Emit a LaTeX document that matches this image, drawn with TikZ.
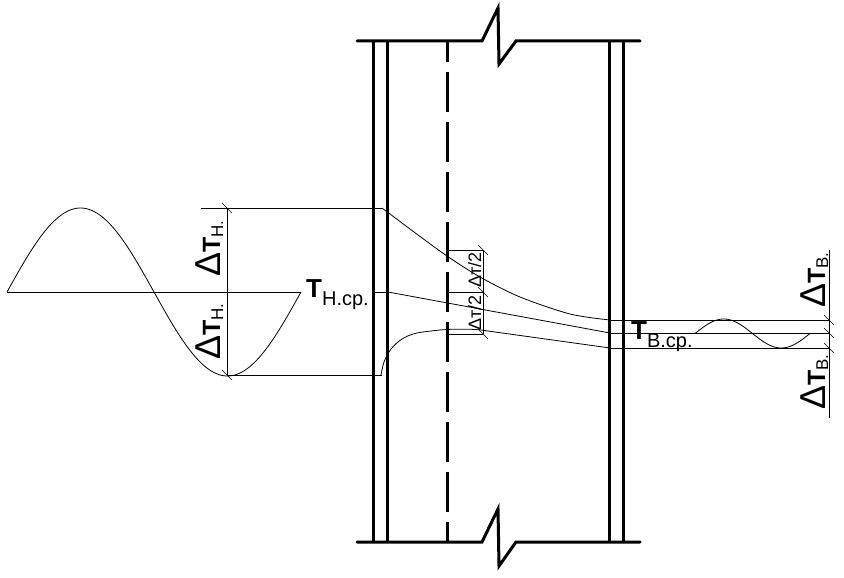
\documentclass[tikz,border=0pt]{standalone}
\usepackage{fontspec}
\setmainfont{Liberation Sans}
\newcommand{\bigdelta}[1]{{\fontsize{36}{36}\selectfont Δ}{\fontsize{25}{25}\selectfont\bfseries T}\raisebox{-3pt}{\fontsize{17}{17}\selectfont #1}}
\newcommand{\smalldelta}{{\fontsize{18}{18}\selectfont Δт/2}}
\newcommand{\meantemp}[1]{{\fontsize{26}{26}\selectfont\bfseries T}\raisebox{-8pt}{\fontsize{20}{20}\selectfont #1}}
\tikzset{
    thinline/.style={line width=0.8pt},
    wall/.style={line width=3pt},
    axisline/.style={line width=3pt, dash pattern=on 40pt off 10pt, dash phase=19pt},
    tick/.style={line width=0.6pt},
    vertlabel/.style={rotate=90, anchor=base west, inner sep=0pt},
    flatlabel/.style={anchor=base west, inner sep=0pt}
}
\begin{document}
\begin{tikzpicture}[x=1pt, y=-1pt]
    \useasboundingbox (0, 0) rectangle (844, 578);
    % walls and break lines
    \draw[wall, line cap=round] (357, 41) -- (482, 41) -- (498, 8) -- (499, 64) -- (516, 41) -- (640, 41);
    \draw[wall, line cap=round] (357, 542) -- (482, 542) -- (498, 509) -- (499, 566) -- (516, 542) -- (640, 542);
    \foreach \wallx in {373.5, 387, 609.5, 623} {
        \draw[wall] (\wallx, 41) -- (\wallx, 542);
    }
    \draw[axisline] (447.5, 41) -- (447.5, 542);
    % outer and inner waves
    \draw[thinline, smooth, samples=120, domain=7:301] plot (\x, {292 - 84*sin((\x - 7)/294*360)});
    \draw[thinline, smooth, samples=80, domain=695:810] plot (\x, {333.5 - 14.5*sin((\x - 695)/115*360)});
    % dimension lines, left
    \draw[thinline] (201, 208) -- (382, 208);
    \draw[thinline] (7, 292) -- (301, 292);
    \draw[thinline] (373, 292) -- (388, 292);
    \draw[thinline] (227, 375) -- (382, 375);
    \draw[thinline] (227, 208) -- (227, 375);
    % temperature curves through the wall
    \draw[thinline, smooth] plot coordinates {(382, 208) (414, 232) (447, 256) (480, 277) (520, 297) (570, 314) (610, 320)};
    \draw[thinline] (388, 292) -- (610, 333);
    \draw[thinline, smooth] plot coordinates {(381, 375) (384, 362) (391, 349) (402, 339) (417, 333) (447, 329.5) (475, 329.5) (500, 332.7) (610, 348)};
    % half amplitude dimension
    \draw[thinline] (449, 250) -- (483, 250);
    \draw[thinline] (449, 292) -- (483, 292);
    \draw[thinline] (449, 334) -- (483, 334);
    \draw[thinline] (483, 250) -- (483, 334);
    % dimension lines, right
    \draw[thinline] (610, 320) -- (829, 320);
    \draw[thinline] (610, 333) -- (829, 333);
    \draw[thinline] (610, 348) -- (829, 348);
    \draw[thinline] (829, 250) -- (829, 418);
    \foreach \tickx/\ticky in {227/208, 227/375, 483/250, 483/292, 483/334, 829/320, 829/333, 829/348} {
        \draw[tick] (\tickx - 5, \ticky - 5) -- (\tickx + 5, \ticky + 5);
    }
    % labels
    \node[vertlabel] (ampouterup) at (220, 277) {\bigdelta{Н.}};
    \node[vertlabel] (ampouterdown) at (220, 360) {\bigdelta{Н.}};
    \node[vertlabel] (ampinnerup) at (825, 308) {\bigdelta{В.}};
    \node[vertlabel] (ampinnerdown) at (825, 410) {\bigdelta{В.}};
    \node[vertlabel] (halfup) at (481, 288) {\smalldelta};
    \node[vertlabel] (halfdown) at (481, 331) {\smalldelta};
    \node[flatlabel] (meanouter) at (306, 297) {\meantemp{Н.ср.}};
    \node[flatlabel] (meaninner) at (631, 339) {\meantemp{В.ср.}};
\end{tikzpicture}
\end{document}
